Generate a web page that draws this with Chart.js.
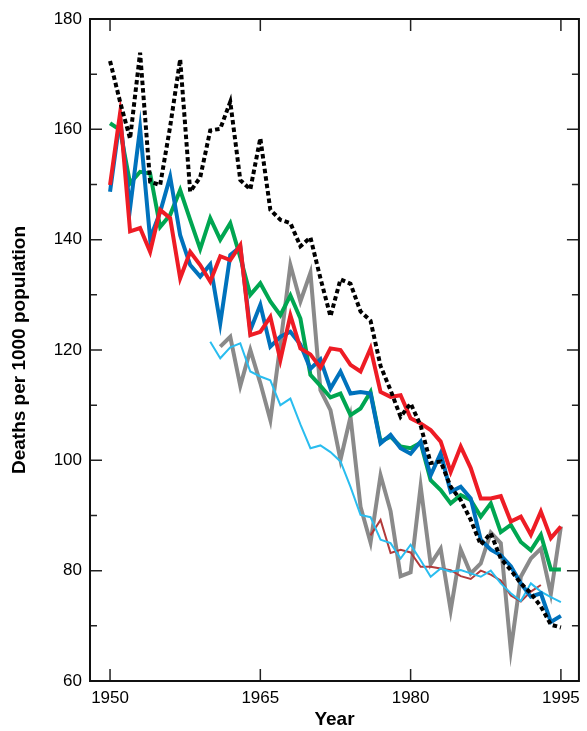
<!DOCTYPE html>
<html><head><meta charset="utf-8">
<script src="https://cdn.jsdelivr.net/npm/chart.js@4/dist/chart.umd.min.js"></script>
<style>html,body{margin:0;padding:0;background:#fff;}canvas{display:block}</style>
</head><body>
<canvas id="c" width="587" height="731"></canvas>
<script>
const years = [1950,1951,1952,1953,1954,1955,1956,1957,1958,1959,
               1960,1961,1962,1963,1964,1965,1966,1967,1968,1969,
               1970,1971,1972,1973,1974,1975,1976,1977,1978,1979,
               1980,1981,1982,1983,1984,1985,1986,1987,1988,1989,
               1990,1991,1992,1993,1994,1995];

const blackDotted = [172.4,165.0,158.3,173.9,150.5,149.9,160.5,172.7,148.7,151.3,
                     159.8,160.1,165.0,150.8,149.1,158.4,145.4,143.6,143.0,138.8,
                     140.4,133.0,126.1,132.8,132.0,127.0,125.3,117.1,112.7,107.9,
                     110.3,106.3,99.5,99.8,95.2,92.8,89.2,84.7,86.8,82.2,
                     80.1,77.7,75.9,73.5,70.2,69.7];

const blueSeries = [148.7,162.0,145.7,160.2,140.2,145.0,151.4,140.8,135.4,133.3,
                    135.5,124.8,137.2,138.7,123.6,128.2,120.6,122.4,123.3,121.0,
                    116.6,118.3,113.0,116.1,112.1,112.4,112.1,103.1,104.6,102.2,
                    101.2,103.4,97.3,101.3,94.3,95.2,93.1,85.6,83.8,82.8,
                    80.8,77.7,75.3,75.9,70.7,71.8];

const redSeries = [149.9,162.9,141.5,142.1,137.8,145.4,143.9,133.0,137.8,135.4,
                   132.4,137.0,136.3,139.0,122.7,123.3,126.0,118.2,126.3,120.3,
                   119.2,116.8,120.3,120.0,117.3,116.1,120.3,112.4,111.5,111.8,
                   107.6,106.7,105.5,103.4,97.9,102.5,98.6,93.1,93.1,93.5,
                   88.9,89.8,86.5,90.7,85.9,88.0];

const greenSeries = [161.1,159.9,150.2,152.3,152.0,142.3,144.5,149.0,143.6,138.3,
                     143.9,140.0,143.0,136.8,130.0,132.1,128.8,126.3,129.9,125.7,
                     115.5,113.5,111.4,112.1,108.2,109.4,112.4,103.4,104.3,102.5,
                     102.2,103.2,96.4,94.6,92.2,93.7,92.8,89.8,92.2,87.0,
                     88.3,85.2,83.7,86.5,80.2,80.2];

const graySeries = [null,null,null,null,null,null,null,null,null,null,
                    null,120.6,122.4,113.5,120.0,114.0,107.3,121.0,135.4,128.8,
                    134.0,112.7,109.1,100.1,107.9,91.6,85.1,97.3,90.8,79.0,
                    79.7,95.3,81.2,84.0,72.8,83.8,79.5,81.3,86.9,85.0,
                    65.6,78.9,82.2,84.0,75.8,88.0];

const lightBlueSeries = [null,null,null,null,null,null,null,null,null,null,
                         121.5,118.5,120.5,121.2,116.1,115.2,114.5,110.0,111.2,106.5,
                         102.2,102.7,101.5,99.8,95.2,90.1,89.7,85.6,85.0,82.2,
                         84.7,81.9,78.9,80.4,79.8,80.1,79.5,78.9,80.0,77.7,
                         75.9,74.5,77.7,76.2,75.2,74.3];

const darkRedSeries = [null,null,null,null,null,null,null,null,null,null,
                       null,null,null,null,null,null,null,null,null,null,
                       null,null,null,null,null,null,86.4,89.2,83.2,83.8,
                       83.3,80.7,80.7,80.4,80.1,79.0,78.5,80.0,79.3,78.2,
                       75.5,74.4,76.2,77.4,null,null];

const xTickLabels = [1950,1965,1980,1995];
const yTickLabels = [60,80,100,120,140,160,180];
const yMinorTicks = [70,90,110,130,150,170];

function pts(vals){
  const out=[];
  vals.forEach((v,i)=>{ if(v!==null) out.push({x:years[i], y:v}); });
  return out;
}

const FONT='"Liberation Sans", Arial, Helvetica, sans-serif';

const framePlugin = {
  id:'frame',
  afterDatasetsDraw(chart){
    const {ctx, chartArea:a, scales:{x,y}} = chart;
    ctx.save();
    ctx.strokeStyle='#222';
    ctx.lineWidth=1.5;
    ctx.beginPath();
    yTickLabels.forEach(v=>{
      const p=y.getPixelForValue(v);
      ctx.moveTo(a.left,p); ctx.lineTo(a.left+12,p);
      ctx.moveTo(a.right,p); ctx.lineTo(a.right-12,p);
    });
    yMinorTicks.forEach(v=>{
      const p=y.getPixelForValue(v);
      ctx.moveTo(a.left,p); ctx.lineTo(a.left+7,p);
      ctx.moveTo(a.right,p); ctx.lineTo(a.right-7,p);
    });
    xTickLabels.forEach(v=>{
      const p=x.getPixelForValue(v);
      ctx.moveTo(p,a.bottom); ctx.lineTo(p,a.bottom-12);
      ctx.moveTo(p,a.top); ctx.lineTo(p,a.top+12);
    });
    ctx.stroke();
    ctx.strokeStyle='#111';
    ctx.lineWidth=2;
    ctx.strokeRect(a.left,a.top,a.right-a.left,a.bottom-a.top);
    ctx.restore();
  }
};

const thick=4, thin=2;
new Chart(document.getElementById('c'),{
  type:'line',
  data:{
    datasets:[
      {label:'black', data:pts(blackDotted), borderColor:'#000', borderWidth:4, borderDash:[4.5,3]},
      {label:'red', data:pts(redSeries), borderColor:'#EE1C25', borderWidth:thick},
      {label:'blue', data:pts(blueSeries), borderColor:'#0072BC', borderWidth:thick},
      {label:'green', data:pts(greenSeries), borderColor:'#00A651', borderWidth:thick},
      {label:'lightblue', data:pts(lightBlueSeries), borderColor:'#2ABDEF', borderWidth:thin},
      {label:'darkred', data:pts(darkRedSeries), borderColor:'#B23A3A', borderWidth:thin},
      {label:'gray', data:pts(graySeries), borderColor:'#8A8A8A', borderWidth:thick}
    ]
  },
  options:{
    responsive:false, animation:false,
    layout:{padding:{top:19,right:5,left:0,bottom:0}},
    plugins:{legend:{display:false}, tooltip:{enabled:false}},
    elements:{point:{radius:0}, line:{tension:0, borderJoinStyle:'miter'}},
    scales:{
      x:{type:'linear', min:1948, max:1996.8,
         afterBuildTicks:s=>{s.ticks=xTickLabels.map(v=>({value:v}));},
         afterFit:s=>{s.height=50;},
         grid:{display:false, drawTicks:false}, border:{display:false},
         ticks:{font:{family:FONT,size:17}, color:'#000', padding:7, maxRotation:0, autoSkip:false, callback:v=>String(v)},
         title:{display:true, text:'Year', color:'#000', font:{family:FONT,size:19,weight:'bold'}, padding:{top:0,bottom:0}}
      },
      y:{type:'linear', min:60, max:180,
         afterBuildTicks:s=>{s.ticks=yTickLabels.map(v=>({value:v}));},
         afterFit:s=>{s.width=90;},
         grid:{display:false, drawTicks:false}, border:{display:false},
         ticks:{font:{family:FONT,size:17}, color:'#000', padding:8, callback:v=>String(v)},
         title:{display:true, text:'Deaths per 1000 population', color:'#000', font:{family:FONT,size:19,weight:'bold'}, padding:{top:8,bottom:0}}
      }
    }
  },
  plugins:[framePlugin]
});
</script>
</body></html>
